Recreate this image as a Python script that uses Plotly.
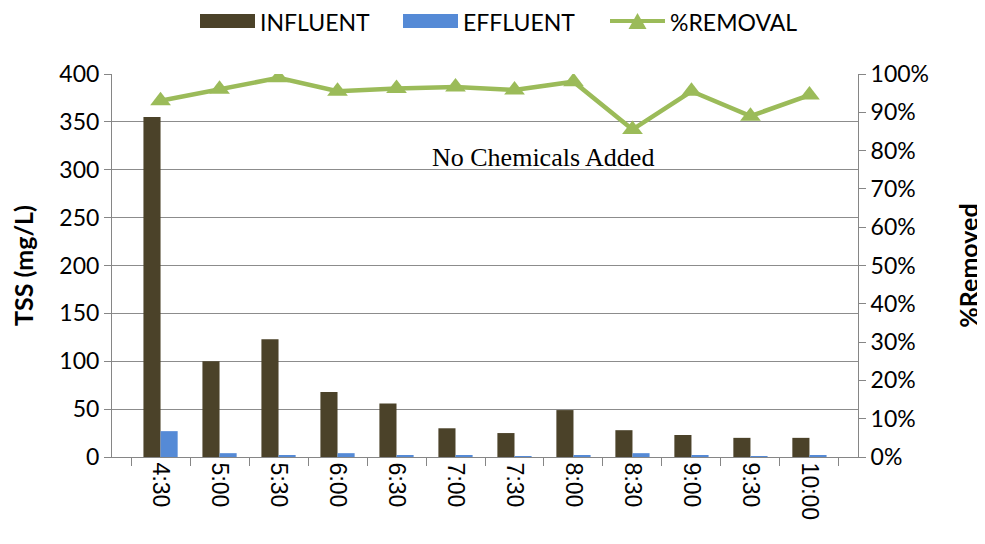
import plotly.graph_objects as go

times = ["4:30", "5:00", "5:30", "6:00", "6:30", "7:00", "7:30", "8:00", "8:30", "9:00", "9:30", "10:00"]
influent = [355, 100, 123, 68, 56, 30, 25, 49, 28, 23, 20, 20]
effluent = [27, 4, 1.5, 4, 1.5, 1.5, 1, 1.5, 4, 1.5, 1, 1.5]
removal = [0.93, 0.96, 0.99, 0.955, 0.962, 0.966, 0.958, 0.98, 0.855, 0.955, 0.89, 0.945]

left_ticks = [0, 50, 100, 150, 200, 250, 300, 350, 400]
right_ticks = [i / 10 for i in range(11)]

C_INF = "#4b4229"
C_EFF = "#558ad6"
C_REM = "#9bbb59"
AX = "#868686"

W, H = 985, 544
OFF = 8  # page body margin of the html page
ML, MR, MT, MB = 112 - OFF, 127 + OFF, 74 - OFF, 87 + OFF
PW, PH = W - ML - MR, H - MT - MB


def px(x):
    return (x - OFF - ML) / PW


def py(y):
    return (H - MB - (y - OFF)) / PH


fig = go.Figure()
fig.add_trace(go.Bar(x=times, y=influent, name="INFLUENT", marker=dict(color=C_INF, line=dict(width=0))))
fig.add_trace(go.Bar(x=times, y=effluent, name="EFFLUENT", marker=dict(color=C_EFF, line=dict(width=0))))
fig.add_trace(go.Scatter(x=times, y=removal, name="%REMOVAL", yaxis="y2", mode="lines+markers",
                         line=dict(color=C_REM, width=4.5),
                         marker=dict(symbol="triangle-up", size=18, color=C_REM)))

fig.add_annotation(text="No Chemicals Added", xref="paper", x=0.578, yref="y", y=313,
                   showarrow=False, font=dict(family="Liberation Serif", size=26, color="#000"))

# legend drawn to match the wide swatches of the original
LEG_Y = 22
legend_items = [("INFLUENT", "bar", C_INF, 200, 255), ("EFFLUENT", "bar", C_EFF, 403, 458),
                ("%REMOVAL", "line", C_REM, 610, 665)]
for label, kind, col, x0, x1 in legend_items:
    if kind == "bar":
        fig.add_shape(type="rect", xref="paper", yref="paper", x0=px(x0), x1=px(x1),
                      y0=py(LEG_Y + 6), y1=py(LEG_Y - 8), fillcolor=col, line=dict(width=0))
    else:
        fig.add_shape(type="line", xref="paper", yref="paper", x0=px(x0), x1=px(x1),
                      y0=py(LEG_Y - 1), y1=py(LEG_Y - 1), line=dict(color=col, width=4))
        xm = (x0 + x1) / 2
        fig.add_shape(type="path", xref="paper", yref="paper",
                      path=f"M {px(xm - 9)} {py(LEG_Y + 7)} L {px(xm + 9)} {py(LEG_Y + 7)} L {px(xm)} {py(LEG_Y - 9)} Z",
                      fillcolor=col, line=dict(width=0))
    fig.add_annotation(text=label, xref="paper", yref="paper", x=px(x1 + 3), y=py(LEG_Y),
                       xanchor="left", yanchor="middle", showarrow=False,
                       font=dict(family="Lato", size=23, color="#000"))

fig.update_layout(
    width=W, height=H,
    margin=dict(l=ML, r=MR, t=MT, b=MB),
    paper_bgcolor="white", plot_bgcolor="white",
    barmode="group", bargap=0.42, bargroupgap=0,
    font=dict(family="Lato", size=22, color="#000"),
    showlegend=False,
    xaxis=dict(type="category", tickangle=90, tickson="boundaries", ticks="outside", ticklen=8,
               tickcolor=AX, showline=True, linecolor=AX, linewidth=1, showgrid=False, automargin=False,
               tickfont=dict(family="Liberation Sans", size=23, color="#000")),
    yaxis=dict(range=[0, 400], tickvals=left_ticks, ticks="outside", ticklen=7, tickcolor=AX,
               showline=True, linecolor=AX, linewidth=1, showgrid=True, gridcolor="#8c8c8c", gridwidth=1,
               zeroline=False, automargin=False, tickfont=dict(family="Lato", size=23, color="#000"),
               title=dict(text="<b>TSS (mg/L)</b>", font=dict(family="Lato", size=25, color="#000"), standoff=30)),
    yaxis2=dict(range=[0, 1], tickvals=right_ticks, tickformat=".0%", overlaying="y", side="right",
                ticks="outside", ticklen=7, tickcolor=AX, showline=True, linecolor=AX, linewidth=1,
                showgrid=False, zeroline=False, automargin=False,
                tickfont=dict(family="Lato", size=23, color="#000"),
                title=dict(text="<b>%Removed</b>", font=dict(family="Lato", size=25, color="#000"), standoff=32)),
)

fig.write_html("out.html")
